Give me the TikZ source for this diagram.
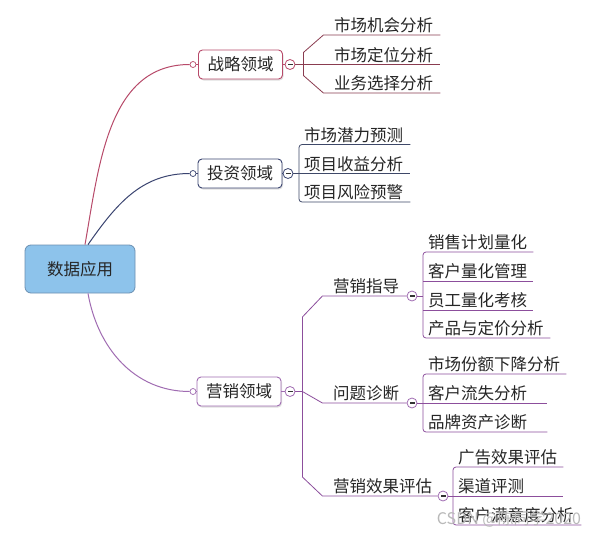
\documentclass[tikz,border=0pt]{standalone}
\usepackage{fontspec}
\setmainfont{Noto Sans CJK SC}
\usetikzlibrary{shadows}

\definecolor{rootfill}{HTML}{8DC3EB}
\definecolor{rootdraw}{HTML}{6B8FB2}
\definecolor{zlcol}{HTML}{B84A6A}
\definecolor{zlline}{HTML}{8A3C50}
\definecolor{tzcol}{HTML}{3A4470}
\definecolor{tzline}{HTML}{3E4868}
\definecolor{yxcol}{HTML}{A06CB2}
\definecolor{yxline}{HTML}{8C4E9C}

\tikzset{
  rootbox/.style={draw=rootdraw, fill=rootfill, rounded corners=6pt, minimum width=110pt, minimum height=48pt, line width=0.8pt},
  domain/.style={draw=#1, fill=white, rounded corners=4pt, minimum width=84pt, minimum height=29pt, line width=0.9pt, drop shadow={shadow xshift=1pt, shadow yshift=-1.5pt, opacity=0.25}},
  dot/.style={circle, draw=#1, fill=white, inner sep=0pt, minimum size=6pt, line width=0.7pt},
  fold/.style={circle, draw=#1, fill=white, inner sep=0pt, minimum size=10pt, line width=0.8pt,
    path picture={\fill[black!80] ([xshift=-2.5pt,yshift=-0.7pt]path picture bounding box.center) rectangle ([xshift=2.5pt,yshift=0.7pt]path picture bounding box.center);}},
  leafbase/.style={anchor=south west, inner xsep=5pt, inner ysep=3pt, text height=13pt, text depth=0pt},
  leaf/.style={leafbase, text width=#1, align=left},
  leaf/.default=100pt,
  zlwire/.style={draw=zlline, line width=0.8pt},
  tzwire/.style={draw=tzline, line width=0.8pt},
  yxwire/.style={draw=yxline, line width=0.8pt}
}

\begin{document}
\begin{tikzpicture}[x=1pt, y=-1pt, font=\fontsize{16.5}{18}\selectfont, text=black!85]
            \fill[white] (0,0) rectangle (611,538);
            \useasboundingbox (0,0) rectangle (611,538);

            \node[rootbox] (root) at (80,269) {数据应用};

            % 战略领域
            \node[domain=zlcol] (zl) at (240.5,64.5) {战略领域};
            \node[dot=zlcol] (zldot) at (193,64.5) {};
            \node[fold=zlcol] (zlfold) at (290,64.5) {};
            \node[leaf=101pt] (zl1) at (329,35) {市场机会分析};
            \node[leaf=101pt] (zl2) at (329,64.5) {市场定位分析};
            \node[leaf=101pt] (zl3) at (329,93) {业务选择分析};
            \draw[zlcol, line width=1pt] ([xshift=5pt]root.north) to[out=80,in=180] (zldot.west);
            \draw[zlcol, line width=0.8pt] (zldot.east) -- (zl.west);
            \draw[zlcol, line width=0.8pt] (zl.east) -- (zlfold.west);
            \draw[zlwire] (zlfold.east) -- ++(8,0) -- ++(0,-12) -- ++(20,-17.5) -- (zl1.south east);
            \draw[zlwire] (zlfold.east) -- (zl2.south east);
            \draw[zlwire] (zlfold.east) -- ++(8,0) -- ++(0,11) -- ++(20,17.5) -- (zl3.south east);

            % 投资领域
            \node[domain=tzcol] (tz) at (240,173.5) {投资领域};
            \node[dot=tzcol] (tzdot) at (193,173.5) {};
            \node[fold=tzcol] (tzfold) at (288,173.5) {};
            \node[leaf=101pt] (tz1) at (299,144.5) {市场潜力预测};
            \node[leaf=101pt] (tz2) at (299,173.5) {项目收益分析};
            \node[leaf=101pt] (tz3) at (299,202) {项目风险预警};
            \draw[tzcol, line width=1pt] ([xshift=8pt]root.north) to[out=55,in=180] (tzdot.west);
            \draw[tzcol, line width=0.8pt] (tzdot.east) -- (tz.west);
            \draw[tzcol, line width=0.8pt] (tz.east) -- (tzfold.west);
            \draw[tzwire, rounded corners=3pt] (tz1.south east) -- (tz1.south west) -- (tz3.south west) -- (tz3.south east);
            \draw[tzwire] (tzfold.east) -- (tz2.south east);

            % 营销领域
            \node[domain=yxcol] (yx) at (239,391.5) {营销领域};
            \node[dot=yxcol] (yxdot) at (193,391.5) {};
            \node[fold=yxcol] (yxfold) at (290,391.5) {};
            \draw[yxcol, line width=1pt] ([xshift=8pt]root.south) to[out=-80,in=180] (yxdot.west);
            \draw[yxcol, line width=0.8pt] (yxdot.east) -- (yx.west);
            \draw[yxcol, line width=0.8pt] (yx.east) -- (yxfold.west);

            \node[leafbase] (yx1) at (328,296) {营销指导};
            \node[fold=yxcol] (yx1fold) at (412,296) {};
            \node[leafbase] (yx2) at (328,403) {问题诊断};
            \node[fold=yxcol] (yx2fold) at (412,403) {};
            \node[leafbase] (yx3) at (328,496) {营销效果评估};
            \node[fold=yxcol] (yx3fold) at (443,496) {};
            \draw[yxwire] (yxfold.east) -- ++(7,0) -- ++(0,-74.5) -- ++(20,-21) -- (yx1fold.west);
            \draw[yxwire] (yxfold.east) -- ++(7,0) -- ++(20,11.5) -- (yx2fold.west);
            \draw[yxwire] (yxfold.east) -- ++(7,0) -- ++(0,85.5) -- ++(20,19) -- (yx3fold.west);

            \node[leaf] (yx11) at (423,252) {销售计划量化};
            \node[leaf] (yx12) at (423,281) {客户量化管理};
            \node[leaf] (yx13) at (423,310) {员工量化考核};
            \node[leaf=117pt] (yx14) at (423,338) {产品与定价分析};
            \draw[yxwire, rounded corners=3pt] (yx11.south east) -- (yx11.south west) -- (yx14.south west) -- (yx14.south east);
            \draw[yxwire] (yx12.south west) -- (yx12.south east);
            \draw[yxwire] (yx13.south west) -- (yx13.south east);
            \draw[yxwire] (yx1fold.east) -- (yx1fold.east -| yx11.south west);

            \node[leaf=133pt] (yx21) at (423,374) {市场份额下降分析};
            \node[leaf=114pt] (yx22) at (423,403) {客户流失分析};
            \node[leaf=114pt] (yx23) at (423,432) {品牌资产诊断};
            \draw[yxwire, rounded corners=3pt] (yx21.south east) -- (yx21.south west) -- (yx23.south west) -- (yx23.south east);
            \draw[yxwire] (yx2fold.east) -- (yx22.south east);

            \node[leaf] (yx31) at (453,467) {广告效果评估};
            \node[leaf] (yx32) at (453,496) {渠道评测};
            \node[leaf=118pt] (yx33) at (453,525) {客户满意度分析};
            \draw[yxwire, rounded corners=3pt] (yx31.south east) -- (yx31.south west) -- (yx33.south west) -- (yx33.south east);
            \draw[yxwire] (yx3fold.east) -- (yx32.south east);

            \node[text=gray!55, font=\fontsize{16}{16}\selectfont] (mark) at (509,519) {CSDN @陈同学2020};
        \end{tikzpicture}
\end{document}
